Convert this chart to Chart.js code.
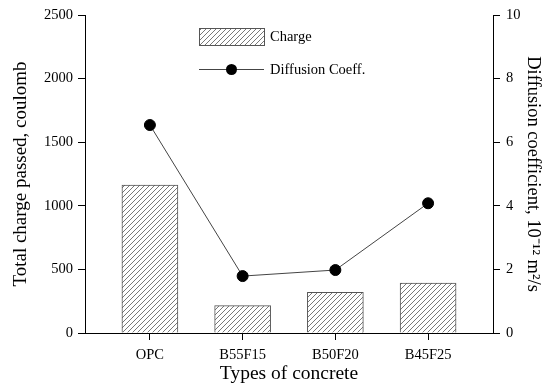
<!DOCTYPE html>
<html>
<head>
<meta charset="utf-8">
<script src="https://cdn.jsdelivr.net/npm/chart.js@4/dist/chart.umd.min.js"></script>
<style>
html,body{margin:0;padding:0;background:#fff;}
#wrap{width:550px;height:386px;}
</style>
</head>
<body>
<div id="wrap"><canvas id="c" width="550" height="386"></canvas></div>
<script>
const categories = ['OPC', 'B55F15', 'B50F20', 'B45F25'];
const chargeValues = [1163, 215, 320, 393];
const diffusionValues = [6.54, 1.79, 1.98, 4.08];
const leftTicks = [0, 500, 1000, 1500, 2000, 2500];
const rightTicks = [0, 2, 4, 6, 8, 10];

const FONT = '"Liberation Serif", "Times New Roman", serif';

function makeHatch() {
  const s = 5;
  const pc = document.createElement('canvas');
  pc.width = s; pc.height = s;
  const g = pc.getContext('2d');
  g.fillStyle = '#fff';
  g.fillRect(0, 0, s, s);
  g.strokeStyle = '#555';
  g.lineWidth = 0.8;
  g.beginPath();
  g.moveTo(-1, s + 1); g.lineTo(s + 1, -1);
  g.moveTo(-1, 1); g.lineTo(1, -1);
  g.moveTo(s - 1, s + 1); g.lineTo(s + 1, s - 1);
  g.stroke();
  return document.getElementById('c').getContext('2d').createPattern(pc, 'repeat');
}
const hatch = makeHatch();

const legendPlugin = {
  id: 'customLegend',
  afterDraw(chart) {
    const ctx = chart.ctx;
    ctx.save();
    ctx.fillStyle = hatch;
    ctx.fillRect(199, 28, 65, 17);
    ctx.strokeStyle = '#555';
    ctx.lineWidth = 1;
    ctx.strokeRect(199.5, 28.5, 65, 17);
    ctx.fillStyle = '#000';
    ctx.font = '14.5px ' + FONT;
    ctx.textBaseline = 'middle';
    ctx.textAlign = 'left';
    ctx.fillText(chart.data.datasets[0].label, 270, 37);
    ctx.strokeStyle = '#444';
    ctx.beginPath();
    ctx.moveTo(199, 69.5); ctx.lineTo(264, 69.5);
    ctx.stroke();
    ctx.fillStyle = '#000';
    ctx.beginPath();
    ctx.arc(231.5, 69.5, 5.5, 0, Math.PI * 2);
    ctx.fill();
    ctx.fillText(chart.data.datasets[1].label, 270, 70);
    ctx.restore();
  }
};

new Chart(document.getElementById('c'), {
  data: {
    datasets: [
      {
        type: 'bar',
        label: 'Charge',
        data: chargeValues.map((v, i) => ({ x: i, y: v })),
        backgroundColor: hatch,
        borderColor: '#555',
        borderWidth: 1,
        barThickness: 56,
        yAxisID: 'y',
        order: 2
      },
      {
        type: 'line',
        label: 'Diffusion Coeff.',
        data: diffusionValues.map((v, i) => ({ x: i, y: v })),
        borderColor: '#444',
        borderWidth: 1,
        pointBackgroundColor: '#000',
        pointBorderColor: '#000',
        pointRadius: 5.5,
        pointHoverRadius: 5.5,
        tension: 0,
        fill: false,
        yAxisID: 'y1',
        order: 1
      }
    ]
  },
  options: {
    responsive: false,
    animation: false,
    devicePixelRatio: 1,
    layout: { padding: { top: 15, left: 0, right: 0, bottom: 0 } },
    plugins: { legend: { display: false }, tooltip: { enabled: false } },
    scales: {
      x: {
        type: 'linear',
        offset: false,
        min: -0.7,
        max: 3.7,
        afterBuildTicks: s => { s.ticks = categories.map((c, i) => ({ value: i })); },
        afterFit: s => { s.height = 53; },
        ticks: {
          callback: v => categories[v],
          font: { family: FONT, size: 14.5 },
          color: '#000',
          padding: 6,
          maxRotation: 0
        },
        grid: { drawOnChartArea: false, drawTicks: true, tickLength: 7, color: '#000', tickColor: '#000', offset: false },
        border: { display: true, color: '#000', width: 1 },
        title: {
          display: true,
          text: 'Types of concrete',
          font: { family: FONT, size: 19.5 },
          color: '#000',
          padding: { top: 0, bottom: 0 }
        }
      },
      y: {
        type: 'linear',
        position: 'left',
        min: 0,
        max: 2500,
        afterBuildTicks: s => { s.ticks = leftTicks.map(v => ({ value: v })); },
        afterFit: s => { s.width = 85; },
        ticks: { callback: v => String(v), font: { family: FONT, size: 14.5 }, color: '#000', padding: 5 },
        grid: { drawOnChartArea: false, drawTicks: true, tickLength: 7, color: '#000', tickColor: '#000' },
        border: { display: true, color: '#000', width: 1 },
        title: {
          display: true,
          text: 'Total charge passed, coulomb',
          font: { family: FONT, size: 19 },
          color: '#000',
          padding: { top: 10, bottom: 0 }
        }
      },
      y1: {
        type: 'linear',
        position: 'right',
        min: 0,
        max: 10,
        afterBuildTicks: s => { s.ticks = rightTicks.map(v => ({ value: v })); },
        afterFit: s => { s.width = 57; },
        ticks: { callback: v => String(v), font: { family: FONT, size: 14.5 }, color: '#000', padding: 6 },
        grid: { drawOnChartArea: false, drawTicks: true, tickLength: 7, color: '#000', tickColor: '#000' },
        border: { display: true, color: '#000', width: 1 },
        title: {
          display: true,
          text: 'Diffusion coefficient, 10\u207B\u00B9\u00B2 m\u00B2/s',
          font: { family: FONT, size: 18.5 },
          color: '#000',
          padding: { top: 6, bottom: 0 }
        }
      }
    }
  },
  plugins: [legendPlugin]
});
</script>
</body>
</html>
